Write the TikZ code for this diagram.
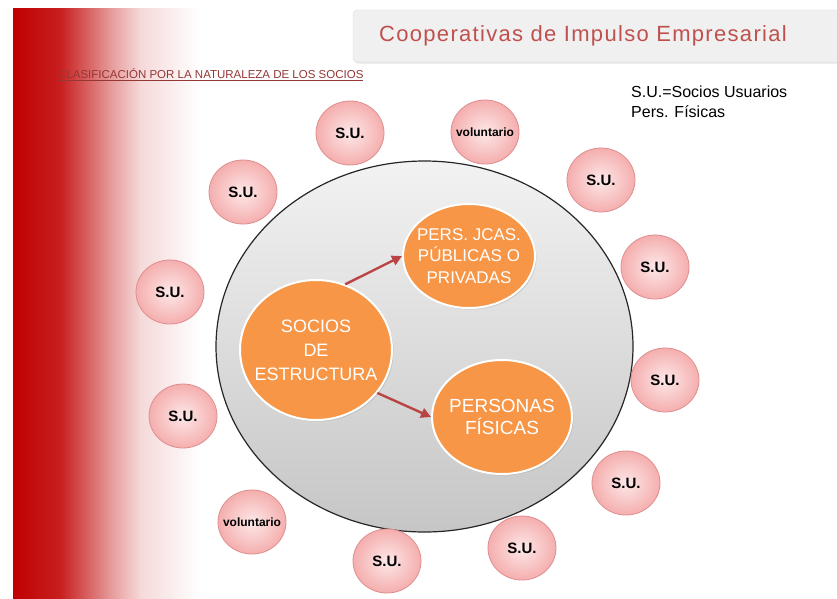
\documentclass[tikz,border=0pt]{standalone}
\usepackage{fontspec}
\setmainfont{Liberation Sans}
\newfontfamily\titlefont[LetterSpace=6]{Liberation Sans}
\usetikzlibrary{shapes.geometric, arrows.meta, shadows}
\definecolor{rojo}{HTML}{C00000}
\definecolor{naranja}{HTML}{F79646}
\definecolor{rosain}{HTML}{FDE8E8}
\definecolor{rosaout}{HTML}{F5AEAE}
\definecolor{rosaborde}{HTML}{DE8E8E}
\definecolor{titulo}{HTML}{C0504D}
\definecolor{subt}{HTML}{953735}
\definecolor{flecha}{HTML}{B94444}

\begin{document}
\begin{tikzpicture}[x=1pt, y=-1pt]
\tikzstyle{su}=[ellipse, draw=rosaborde, line width=0.8pt, inner color=rosain, outer color=rosaout,
                minimum width=68pt, minimum height=64pt, inner sep=0pt]
\tikzstyle{sutxt}=[inner sep=0pt, font=\fontsize{15}{17}\selectfont\bfseries]
\tikzstyle{voltxt}=[inner sep=0pt, font=\fontsize{12}{14}\selectfont\bfseries]
\tikzstyle{nar}=[ellipse, draw=white, line width=2pt, fill=naranja, inner sep=0pt,
                 drop shadow={opacity=0.25, shadow xshift=1.5pt, shadow yshift=-1.5pt}]
\tikzstyle{nartxt}=[text=white, align=center, inner sep=0pt]
\tikzstyle{flch}=[draw=flecha, line width=2.4pt, -{Triangle[length=10pt, width=10pt]}]

\useasboundingbox (0,0) rectangle (837,598);
\fill[white] (0,0) rectangle (837,598);
% franja roja
\shade[left color=rojo, right color=rojo!88!white] (13,8) rectangle (60.5,598);
\shade[left color=rojo!88!white, right color=rojo!40!white] (60,8) rectangle (110.5,598);
\shade[left color=rojo!40!white, right color=rojo!15!white] (110,8) rectangle (140.5,598);
\shade[left color=rojo!15!white, right color=white] (140,8) rectangle (200,598);

% cabecera
\node[draw=gray!25, fill=gray!12, rounded corners=4pt, minimum width=500pt, minimum height=52pt,
      drop shadow={opacity=0.2, shadow xshift=1pt, shadow yshift=-1.5pt}] (cabecera) at (603,36) {};
\node[text=titulo, font=\titlefont\fontsize{22}{26}\selectfont] (titulo) at (583,36)
     {Cooperativas de Impulso Empresarial};
\node[anchor=west, inner sep=0pt, text=subt, font=\fontsize{11.5}{13}\selectfont] (clasif) at (58,75)
     {\underline{CLASIFICACIÓN POR LA NATURALEZA DE LOS SOCIOS}};
\node[anchor=north west, align=left, inner sep=0pt, font=\fontsize{16}{20}\selectfont] (leyenda) at (631,86)
     {S.U.=Socios Usuarios\\Pers. Físicas};

% circulo central
\node[ellipse, draw=gray!30!black, line width=1.2pt, top color=gray!10, bottom color=gray!45,
      minimum width=417pt, minimum height=371pt, inner sep=0pt] (base) at (424.5,346.5) {};

% socios usuarios
\foreach \n/\x/\y in {sua/350/133, sub/601/180, suc/243/192, sud/655/267, sue/170/292,
                      suf/665/380, sug/183/416, suh/626/483, sui/387/561, suj/522/548}{
  \node[su, label={[sutxt]center:S.U.}] (\n) at (\x,\y) {};
}
\node[su, label={[voltxt]center:voluntario}] (vola) at (485,132) {};
\node[su, label={[voltxt]center:voluntario}] (volb) at (252,522) {};

% socios de estructura
\node[nar, minimum width=152pt, minimum height=140pt] (soc) at (316,350) {};
\node[nartxt, font=\fontsize{18}{24}\selectfont] (soc-t) at (soc) {SOCIOS\\DE\\ESTRUCTURA};
\node[nar, minimum width=132pt, minimum height=104pt] (pjc) at (469,256) {};
\node[nartxt, font=\fontsize{17}{21.5}\selectfont] (pjc-t) at (pjc) {PERS. JCAS.\\PÚBLICAS O\\PRIVADAS};
\node[nar, minimum width=140pt, minimum height=114pt] (pef) at (502,417) {};
\node[nartxt, font=\fontsize{19}{22}\selectfont] (pef-t) at (pef) {PERSONAS\\FÍSICAS};

\draw[flch] (soc.66) -- (pjc.west);
\draw[flch] (soc.-35) -- (pef.west);

\end{tikzpicture}
\end{document}
